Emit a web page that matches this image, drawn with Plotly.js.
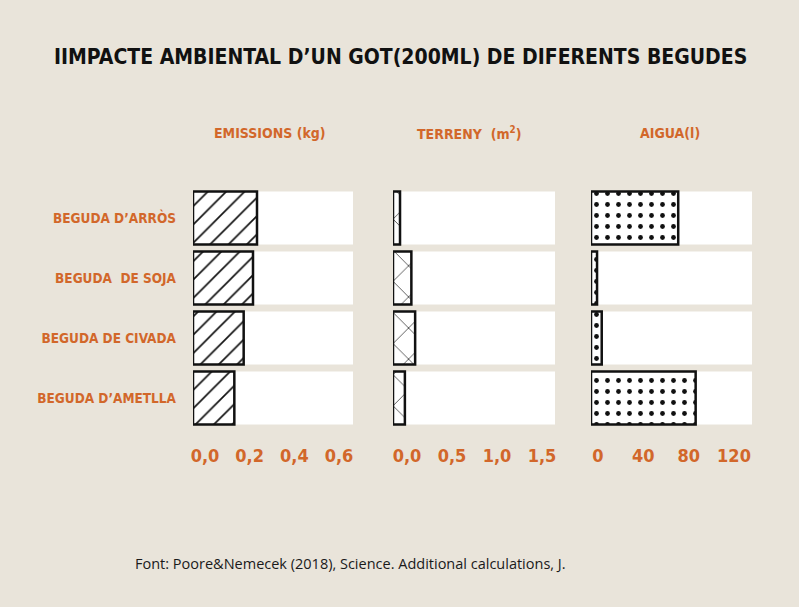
<!DOCTYPE html>
<html>
<head>
<meta charset="utf-8">
<script src="https://cdn.plot.ly/plotly-3.0.1.min.js"></script>
<style>
  html, body { margin: 0; padding: 0; background: #e9e4da; }
  #chart { width: 799px; height: 607px; }
</style>
</head>
<body>
<div id="chart"></div>
<script>
"use strict";

// drinks, top to bottom
var begudes = ["BEGUDA D’ARRÒS", "BEGUDA  DE SOJA", "BEGUDA DE CIVADA", "BEGUDA D’AMETLLA"];

// values for one glass (200 ml)
var emissions = [0.24, 0.225, 0.19, 0.155];   // kg
var terreny   = [0.065, 0.17, 0.205, 0.11];  // m2
var aigua     = [65, 4.5, 8, 78];            // l

var emissionsTicks = [0, 0.2, 0.4, 0.6];
var terrenyTicks   = [0, 0.5, 1.0, 1.5];
var aiguaTicks     = [0, 40, 80, 120];

var orange = '#d2672a';
var font = '"DejaVu Sans Condensed", sans-serif';

// panel: values, axis max, pattern shape
var panels = [
	{ vals: emissions, max: 0.6, ticks: emissionsTicks, fmt: '.1f', shape: '/', size: 13, sol: 0.13 },
	{ vals: terreny,   max: 1.5, ticks: terrenyTicks,   fmt: '.1f', shape: 'x', size: 22, sol: 0.06 },
	{ vals: aigua,     max: 120, ticks: aiguaTicks,     fmt: 'd',   shape: '.', size: 11, sol: 0.15 }
];

var W = 799, H = 607;
function px(a, b){ return [a / W, b / W]; }

// plot areas (white rows) and where the tick labels sit
var domains    = [px(193, 353), px(393, 555), px(591, 752)];
var tickDomain = [px(205, 339), px(407, 542), px(598, 734)];

var data = [];
var layout = {
	width: W, height: H,
	paper_bgcolor: '#e9e4da',
	plot_bgcolor: 'rgba(0,0,0,0)',
	margin: { l: 0, r: 0, t: 0, b: 0 },
	showlegend: false,
	barmode: 'overlay',
	separators: ',.',
	font: { family: font, color: orange },
	annotations: [],
	hovermode: false
};

panels.forEach(function(p, i){
	const xa = i === 0 ? 'x' : 'x' + (i + 1);
	const ya = i === 0 ? 'y' : 'y' + (i + 1);
	const xkey = i === 0 ? 'xaxis' : 'xaxis' + (i + 1);
	const ykey = i === 0 ? 'yaxis' : 'yaxis' + (i + 1);

	// white background rows
	data.push({
		type: 'bar', orientation: 'h',
		y: begudes, x: begudes.map(() => p.max),
		base: 0, width: 0.883,
		xaxis: xa, yaxis: ya,
		marker: { color: 'white', line: { width: 0 } }
	});
	// the actual bars
	data.push({
		type: 'bar', orientation: 'h',
		y: begudes, x: p.vals,
		base: 0, width: 0.883,
		xaxis: xa, yaxis: ya,
		marker: {
			color: 'white',
			line: { color: '#111', width: 2.5 },
			pattern: { shape: p.shape, size: p.size, solidity: p.sol, fgcolor: '#111', bgcolor: 'white', fillmode: 'replace' }
		}
	});

	layout[xkey] = {
		domain: domains[i], range: [0, p.max],
		showgrid: false, zeroline: false, showticklabels: false, fixedrange: true,
		anchor: ya
	};
	layout[ykey] = {
		domain: [1 - 428 / H, 1 - 188 / H],
		type: 'category', autorange: 'reversed',
		showgrid: false, zeroline: false, fixedrange: true,
		showticklabels: i === 0, ticks: '',
		ticklabelstandoff: 16,
		tickfont: { family: font, size: 13.5, color: orange, weight: 'bold' },
		anchor: xa
	};

	// axis that only carries the tick labels
	const lx = 'x' + (i + 4);
	data.push({ type: 'scatter', x: [], y: [], xaxis: lx, yaxis: ya, hoverinfo: 'skip' });
	layout['xaxis' + (i + 4)] = {
		domain: tickDomain[i],
		range: [p.ticks[0], p.ticks[p.ticks.length - 1]],
		anchor: 'free', position: 1 - 443 / H, overlaying: false,
		tickvals: p.ticks, tickformat: p.fmt,
		showgrid: false, zeroline: false, showline: false, ticks: '',
		tickfont: { family: font, size: 18, color: orange, weight: 'bold' },
		fixedrange: true
	};
});

// texts
layout.annotations.push({
	text: '<b>IIMPACTE AMBIENTAL D’UN GOT(200ML) DE DIFERENTS BEGUDES</b>',
	xref: 'paper', yref: 'paper', x: 400 / W, y: 1 - 57 / H,
	xanchor: 'center', yanchor: 'middle', showarrow: false,
	font: { family: font, size: 21, color: '#111' }
});
[['EMISSIONS (kg)', 270], ['TERRENY  (m<sup>2</sup>)', 469], ['AIGUA(l)', 670]].forEach(function(t){
	layout.annotations.push({
		text: '<b>' + t[0] + '</b>',
		xref: 'paper', yref: 'paper', x: t[1] / W, y: 1 - 133 / H,
		xanchor: 'center', yanchor: 'middle', showarrow: false,
		font: { family: font, size: 14, color: orange }
	});
});
layout.annotations.push({
	text: 'Font: Poore&Nemecek (2018), Science. Additional calculations, J.',
	xref: 'paper', yref: 'paper', x: 133 / W, y: 1 - 563 / H,
	xanchor: 'left', yanchor: 'middle', showarrow: false,
	font: { family: '"Open Sans", sans-serif', size: 14.5, color: '#1a1a1a' }
});

Plotly.newPlot('chart', data, layout, { displayModeBar: false, staticPlot: true });
</script>
</body>
</html>
